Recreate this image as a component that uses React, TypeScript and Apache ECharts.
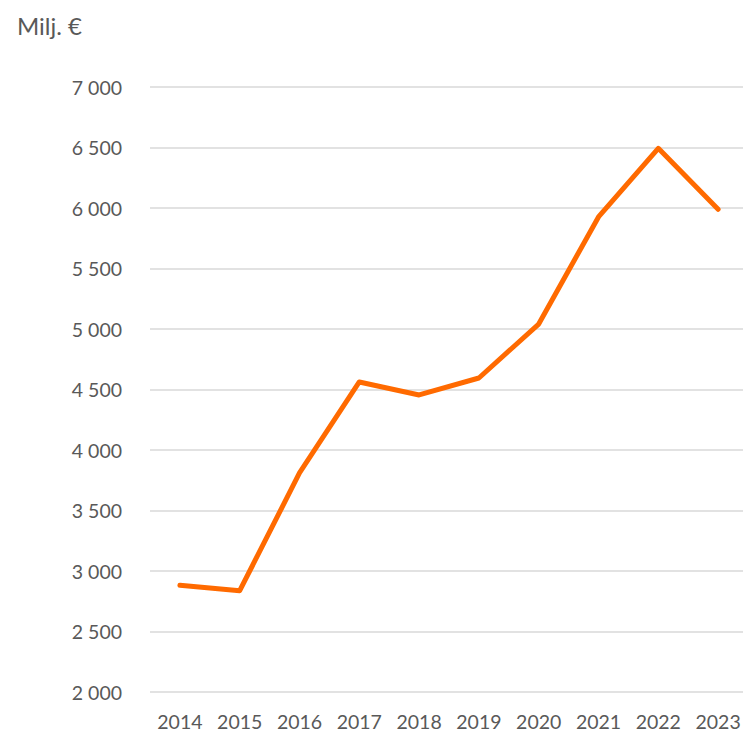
import React, { useEffect, useRef } from "react";
import * as echarts from "echarts";

const years = ["2014", "2015", "2016", "2017", "2018", "2019", "2020", "2021", "2022", "2023"];
const values = [2882, 2837, 3810, 4562, 4455, 4595, 5041, 5926, 6493, 5989];
const unitLabel = "Milj. €";

const fmt = (v: number) => {
  const s = String(Math.round(v));
  return s.replace(/\B(?=(\d{3})+(?!\d))/g, " ");
};

export default function App() {
  const ref = useRef<HTMLDivElement>(null);
  useEffect(() => {
    if (!ref.current) return;
    const chart = echarts.init(ref.current, undefined, { renderer: "svg" });
    chart.setOption({
      animation: false,
      backgroundColor: "#ffffff",
      textStyle: { fontFamily: "Lato" },
      graphic: [
        {
          type: "text",
          left: 17,
          top: 13,
          style: { text: unitLabel, fontSize: 24, fill: "#595959", fontFamily: "Lato" },
        },
      ],
      grid: {
        left: 150,
        top: 87,
        width: 598,
        height: 605,
        containLabel: false,
        outerBoundsMode: "none",
      },
      xAxis: {
        type: "category",
        data: years,
        boundaryGap: true,
        axisLine: { show: false },
        axisTick: { show: false },
        axisLabel: { color: "#595959", fontSize: 19.5, margin: 19, fontFamily: "Lato" },
      },
      yAxis: {
        type: "value",
        min: 2000,
        max: 7000,
        interval: 500,
        axisLine: { show: false },
        axisTick: { show: false },
        splitLine: { lineStyle: { color: "#d9d9d9", width: 1.5 } },
        axisLabel: {
          color: "#595959",
          fontSize: 19.5,
          margin: 28,
          fontFamily: "Lato",
          formatter: (v: number) => fmt(v),
        },
      },
      series: [
        {
          type: "line",
          data: values,
          symbol: "none",
          lineStyle: { color: "#ff6a00", width: 5, cap: "round", join: "round" },
        },
      ],
    });
    return () => chart.dispose();
  }, []);
  return (
    <div
      ref={ref}
      style={{ position: "fixed", left: 0, top: 0, width: 743, height: 733 }}
    />
  );
}
